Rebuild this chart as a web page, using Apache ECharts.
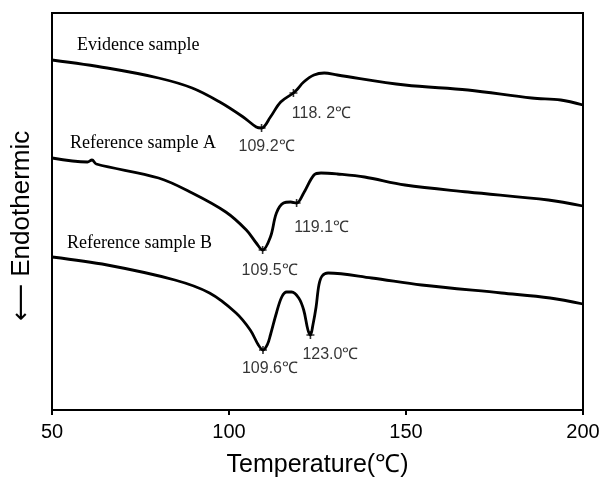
<!DOCTYPE html>
<html>
<head>
<meta charset="utf-8">
<script src="https://cdn.jsdelivr.net/npm/echarts@6/dist/echarts.min.js"></script>
<style>
  html, body { margin: 0; padding: 0; background: #fff; }
  #chart { width: 603px; height: 478px; }
</style>
</head>
<body>
<div id="chart"></div>
<script>
// DSC curves (x: temperature in C, y: heat flow, arbitrary units, offset per sample)
var evidenceTemp   = [50, 65.6, 80.1, 89.6, 97.4, 104, 107.7, 109.2, 111.7, 114.6, 118.2, 119.1, 121.1, 124, 126.9, 130.6, 149.7, 167.5, 185.5, 193.7, 200];
var evidenceSignal = [350, 342, 332, 322, 308, 293, 283, 282, 293, 308, 317, 320, 328, 335, 337, 335, 325, 320, 312, 310, 305];

var refATemp   = [50, 60, 61.3, 62.5, 80.1, 89.6, 99.1, 104.9, 107.7, 109.5, 111.7, 113.4, 115.4, 117.4, 119.1, 121.1, 124, 126, 130.6, 138.3, 149.7, 167.5, 190.2, 200];
var refASignal = [252, 248, 250, 246, 232, 217, 198, 180, 167, 160, 173, 197, 207, 208, 207, 217, 235, 237, 236, 233, 225, 218, 210, 204];

var refBTemp   = [50, 65.6, 84.7, 94.5, 102, 106, 108.3, 109.6, 110.9, 111.7, 113.4, 114.9, 116.3, 117.7, 119.7, 121.1, 122.3, 123, 123.7, 124.6, 125.4, 126.3, 128, 140.3, 154.4, 177, 190.7, 200];
var refBSignal = [153, 145, 130, 117, 97, 80, 65, 60, 66, 75, 97, 113, 118, 118, 112, 100, 80, 75, 85, 103, 125, 134, 137, 132, 125, 117, 112, 106];

// peak markers
var peakTemp   = [109.2, 118.2, 109.5, 119.1, 109.6, 123.0];
var peakSignal = [282, 317, 160, 207, 60, 75];
var peakLabels = ['109.2℃', '118. 2℃', '109.5℃', '119.1℃', '109.6℃', '123.0℃'];

var sampleNames = ['Evidence sample', 'Reference sample A', 'Reference sample B'];
var xTicks = [50, 100, 150, 200];

function pairs(xs, ys) {
  var out = [];
  for (var i = 0; i < xs.length; i++) out.push([xs[i], ys[i]]);
  return out;
}

// label offsets from each peak marker (px)
var labelOffsets = [[5, 19], [28, 21], [7, 21], [25, 25], [7, 19], [20, 20]];
var peakData = peakTemp.map(function (t, i) {
  return {
    value: [t, peakSignal[i]],
    label: { show: true, position: 'inside', offset: labelOffsets[i], formatter: peakLabels[i], color: '#000' }
  };
});

var lineStyle = { color: '#000', width: 2.8 };
var sans = "'Liberation Sans', Arial, sans-serif";

var chart = echarts.init(document.getElementById('chart'));
chart.setOption({
  animation: false,
  backgroundColor: '#fff',
  grid: { left: 52, top: 13, right: 20, bottom: 68, outerBoundsMode: 'none', containLabel: false,
          show: true, borderColor: '#000', borderWidth: 2 },
  xAxis: {
    type: 'value', min: xTicks[0], max: xTicks[xTicks.length - 1], interval: 50,
    name: 'Temperature(℃)', nameLocation: 'middle', nameGap: 43,
    nameTextStyle: { color: '#000', fontSize: 25, fontFamily: sans },
    axisLine: { lineStyle: { color: '#000', width: 2 } },
    axisTick: { length: 5, lineStyle: { color: '#000', width: 2 } },
    axisLabel: { color: '#000', fontSize: 20, margin: 12, fontFamily: sans },
    splitLine: { show: false }
  },
  yAxis: {
    type: 'value', min: 0, max: 397,
    axisLine: { show: true, lineStyle: { color: '#000', width: 2 } },
    axisTick: { show: false }, axisLabel: { show: false }, splitLine: { show: false }
  },
  graphic: [
    { type: 'text', left: 77, top: 36, style: { text: sampleNames[0], font: "18px 'Liberation Serif', serif", fill: '#000' } },
    { type: 'text', left: 70, top: 134, style: { text: sampleNames[1], font: "18px 'Liberation Serif', serif", fill: '#000' } },
    { type: 'text', left: 67, top: 234, style: { text: sampleNames[2], font: "18px 'Liberation Serif', serif", fill: '#000' } },
    { type: 'text', x: 22, y: 226, rotation: Math.PI / 2,
      style: { text: '⟵ Endothermic', font: "26px 'Liberation Sans', 'DejaVu Sans', sans-serif", fill: '#000', align: 'center', verticalAlign: 'middle' } }
  ],
  series: [
    { type: 'line', data: pairs(evidenceTemp, evidenceSignal), showSymbol: false, smooth: 0.35, lineStyle: lineStyle },
    { type: 'line', data: pairs(refATemp, refASignal), showSymbol: false, smooth: 0.35, lineStyle: lineStyle },
    { type: 'line', data: pairs(refBTemp, refBSignal), showSymbol: false, smooth: 0.35, lineStyle: lineStyle },
    {
      type: 'scatter', data: peakData,
      symbol: 'path://M4 0H6V4H10V6H6V10H4V6H0V4H4Z', symbolSize: 8,
      itemStyle: { color: '#000' },
      label: { color: '#000', fontSize: 16, fontFamily: sans, textBorderWidth: 0 },
      z: 5
    }
  ]
});
</script>
</body>
</html>
